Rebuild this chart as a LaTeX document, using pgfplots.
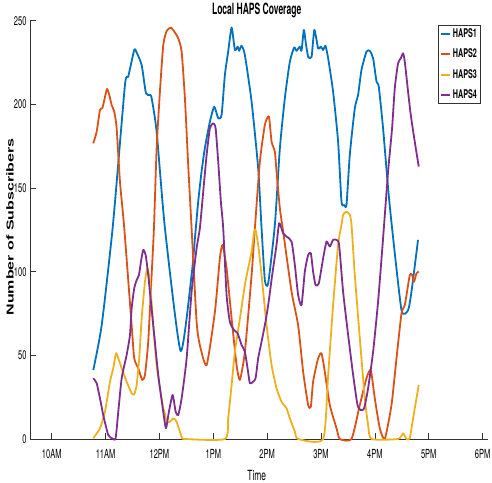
\documentclass[border=0pt]{standalone}
\usepackage{pgfplots}
\pgfplotsset{compat=1.18}
\usepackage{pgfplotstable}
\usepackage{fontspec}
\setmainfont{Liberation Sans}
\newfontfamily\condfont[FakeStretch=0.6]{TeX Gyre Heros}
\newfontfamily\titlefont[FakeStretch=0.55]{TeX Gyre Heros}

\definecolor{c1}{rgb}{0,0.447,0.741}
\definecolor{c2}{rgb}{0.85,0.325,0.098}
\definecolor{c3}{rgb}{0.929,0.694,0.125}
\definecolor{c4}{rgb}{0.494,0.184,0.556}

% time in hours (10 = 10AM), number of subscribers served
\pgfplotstableread{
t v
10.772 41.2
10.928 68
11.137 128
11.360 211.6
11.421 216.6
11.532 232.5
11.577 231
11.670 223.5
11.750 206.6
11.824 205.6
11.855 203.8
11.948 183.7
12.102 126
12.393 52.6
12.597 98
12.659 120
12.720 142
12.783 160
12.844 174
12.937 189.7
13.017 198.6
13.091 191.7
13.154 193.7
13.215 217.6
13.276 231.5
13.340 245.9
13.401 232.5
13.451 234.5
13.480 232
13.525 235
13.586 229.5
13.711 201.6
13.833 161.8
13.896 126
13.957 95
14.019 93
14.143 128
14.236 173.8
14.328 203.6
14.421 225.5
14.501 234
14.545 232
14.606 234.5
14.638 232
14.681 244.5
14.718 236.5
14.761 228.5
14.824 228.3
14.876 244.5
14.946 233.5
14.996 234.5
15.039 232.5
15.083 235
15.132 227.5
15.224 207.6
15.317 177.7
15.380 141.8
15.429 139.9
15.473 139.9
15.534 169.8
15.627 197.7
15.688 205.6
15.751 220.6
15.844 231.5
15.905 232
15.967 227.5
16.030 213.6
16.072 210.6
16.152 185.7
16.245 149.9
16.319 126
16.494 77
16.616 77
16.679 88
16.801 119
}\hapsone

\pgfplotstableread{
t v
10.772 176.7
10.835 183.7
10.896 196.7
10.939 197.7
10.970 201.6
11.026 209.2
11.069 205.6
11.113 199.6
11.161 195.6
11.206 185.7
11.267 153.8
11.347 126
11.484 68
11.532 48.2
11.607 42.3
11.681 35.3
11.731 38.3
11.792 58.2
11.855 98
11.898 126
11.948 173.8
12.009 207.6
12.071 235.5
12.134 243.9
12.213 245.9
12.275 243.5
12.349 239.5
12.412 231.5
12.473 203.6
12.534 163.8
12.597 126
12.690 70
12.751 56
12.876 44.2
13.030 76
13.122 108
13.173 116
13.247 102
13.340 72
13.432 44.2
13.494 35.3
13.586 52
13.711 98
13.772 126
13.865 165.8
13.957 187.7
14.032 192.7
14.082 177.7
14.143 171.7
14.174 159.8
14.236 137.9
14.297 124
14.453 88
14.575 68
14.668 40.2
14.761 20.3
14.811 19.3
14.853 34.3
14.946 48.2
15.009 51.2
15.070 40.2
15.163 20.3
15.288 6.4
15.349 0
15.566 0
15.720 20.3
15.844 36.3
15.924 41.2
15.998 24.3
16.091 6.4
16.184 0
16.308 20.3
16.401 48.2
16.494 75.1
16.555 80
16.648 98
16.690 98
16.727 94
16.772 99
16.814 100
}\hapstwo

\pgfplotstableread{
t v
10.772 0.5
10.896 6.4
10.989 16.3
11.082 34.3
11.143 42.3
11.193 51.2
11.236 48.2
11.299 42.3
11.391 34.3
11.484 27.3
11.532 26.7
11.577 32.3
11.625 48.2
11.670 72
11.731 94
11.774 102
11.824 94
11.885 68
11.948 44.2
12.009 30.3
12.071 18.3
12.102 15.3
12.134 10.3
12.195 10.3
12.256 12.4
12.319 10.3
12.412 1.4
12.473 0
13.215 0
13.276 12.4
13.340 32.3
13.401 52.2
13.494 72
13.586 92
13.647 102
13.711 112
13.759 124
13.785 125
13.833 116
13.896 98
13.989 68
14.082 44.2
14.174 30.3
14.267 22.3
14.360 18.3
14.421 12.4
14.514 4.4
14.575 0
15.039 0
15.132 38.3
15.224 80
15.317 116
15.380 128
15.410 134
15.473 135.9
15.534 134
15.566 128
15.627 98
15.720 60.2
15.813 24.3
15.874 8.4
15.937 0
16.430 0
16.523 3.4
16.586 0
16.648 0.5
16.709 12.4
16.772 24.3
16.814 32.3
}\hapsthree

\pgfplotstableread{
t v
10.772 36.3
10.835 33.3
10.896 24.3
10.957 14.3
11.050 2.4
11.143 0
11.187 0.4
11.236 16.3
11.299 36.3
11.391 50.2
11.453 62.2
11.484 78.1
11.532 90
11.577 95
11.620 98
11.657 106
11.699 113
11.744 110
11.792 98
11.885 68
11.978 38.3
12.071 16.3
12.121 6.4
12.176 16.3
12.245 26.3
12.301 16.3
12.349 14.3
12.412 24.3
12.505 48.2
12.597 88
12.690 114
12.751 126
12.813 147.8
12.876 169.8
12.937 185.7
12.998 188.7
13.043 185.7
13.091 165.8
13.141 141.8
13.184 126
13.247 86
13.308 70
13.388 65
13.451 63.2
13.525 56.2
13.586 52.2
13.636 42.3
13.679 33.3
13.740 34.3
13.785 36.3
13.833 48.2
13.896 58.2
13.957 68
14.019 80
14.093 98
14.174 116
14.223 129
14.297 123
14.360 121
14.453 118
14.514 104
14.575 86
14.638 80
14.699 100
14.761 110
14.811 111
14.853 100
14.898 92
14.959 93
15.039 108
15.102 118
15.163 115
15.224 119
15.288 119
15.336 116
15.410 88
15.503 62.2
15.596 38.3
15.677 20.3
15.738 17.3
15.800 18.3
15.874 30.3
15.967 52.2
16.059 82
16.152 120
16.245 159.8
16.319 185.7
16.369 209.6
16.430 224.5
16.480 227.5
16.523 230.5
16.555 225.5
16.616 207.6
16.666 193.7
16.740 177.7
16.814 162.8
}\hapsfour

\begin{document}
\begin{tikzpicture}
\useasboundingbox (0,0) rectangle (492pt,482pt);
\begin{axis}[
  at={(30pt,43pt)}, anchor=south west,
  scale only axis, width=458pt, height=418.3pt,
  xmin=9.597, xmax=18.1, ymin=0, ymax=250,
  clip=false,
  axis x line*=bottom, axis y line*=left,
  axis line style={black!80, line width=0.6pt},
  tick align=inside, major tick length=6pt,
  tick style={black!80, line width=0.6pt},
  xtick={10,...,18},
  xticklabels={10AM,11AM,12PM,1PM,2PM,3PM,4PM,5PM,6PM},
  ytick={0,50,...,250},
  /pgf/number format/assume math mode=true,
  tick label style={font=\condfont\fontsize{12.5}{13}\selectfont},
  xticklabel style={anchor=base, yshift=-19pt},
  yticklabel style={anchor=east},
  title={Local HAPS Coverage},
  every axis title/.style={font=\titlefont\bfseries\fontsize{15.5}{16}\selectfont,
    anchor=base, at={(axis description cs:0.495,1)}, yshift=5.7pt},
  xlabel={Time},
  every axis x label/.style={font=\condfont\fontsize{14}{15}\selectfont,
    anchor=base, at={(axis description cs:0.495,0)}, yshift=-41pt},
  ylabel={Number of Subscribers},
  every axis y label/.style={font=\bfseries\fontsize{10}{11}\selectfont,
    at={(axis description cs:0,0.507)}, xshift=-20pt, anchor=center,
    rotate=90, xscale=1.6},
  legend style={at={(axis description cs:0.984,0.99)}, anchor=north east,
    draw=black!80, line width=0.6pt, inner sep=1.5pt, row sep=6pt,
    font=\condfont\bfseries\fontsize{12}{13}\selectfont},
  legend cell align=left,
  legend image code/.code={\draw[#1, line width=2pt] (0pt,0pt) -- (9pt,0pt);},
  every axis plot/.append style={line width=1.8pt, line join=round, smooth, tension=0.35},
]
\addplot[c1] table[x=t, y=v] {\hapsone};
\addplot[c2] table[x=t, y=v] {\hapstwo};
\addplot[c3] table[x=t, y=v] {\hapsthree};
\addplot[c4] table[x=t, y=v] {\hapsfour};
\legend{HAPS1,HAPS2,HAPS3,HAPS4}
\end{axis}
\end{tikzpicture}
\end{document}
